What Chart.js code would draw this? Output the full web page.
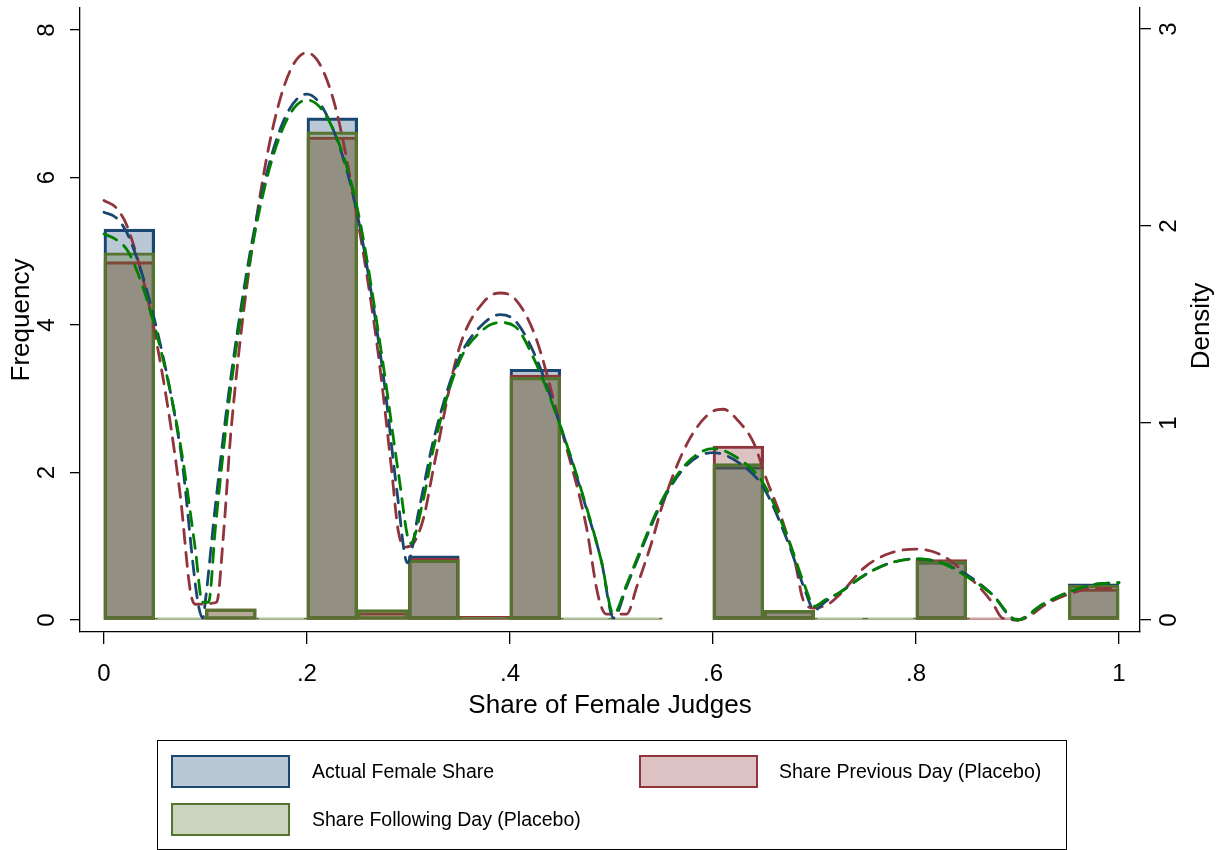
<!DOCTYPE html>
<html><head><meta charset="utf-8">
<script src="https://cdn.jsdelivr.net/npm/chart.js@4.4.1/dist/chart.umd.min.js"></script>
<style>
html,body{margin:0;padding:0;background:#fff;width:1225px;height:850px;overflow:hidden;font-family:"Liberation Sans",Arial,Helvetica,sans-serif;}
#wrap{position:relative;width:1225px;height:850px;}
canvas{position:absolute;left:0;top:0;}
.legbox{position:absolute;left:157px;top:740px;width:910px;height:110px;border:1.5px solid #000;box-sizing:border-box;}
.sw{position:absolute;width:119px;height:33px;box-sizing:border-box;border:2.5px solid;}
.lt{position:absolute;height:33px;line-height:33px;font-size:19.5px;color:#000;white-space:nowrap;}
</style></head><body>
<div id="wrap">
<canvas id="c" width="1225" height="850"></canvas>
<div class="legbox"></div>
<div id="legend"></div>
</div>
<script>
// ---- data ----
const binCenters = [0.025,0.075,0.125,0.175,0.225,0.275,0.325,0.375,0.425,0.475,0.525,0.575,0.625,0.675,0.725,0.775,0.825,0.875,0.925,0.975];
const actualFreq    = [5.30,0,   0,   0,   6.81,0,   0.87,0,   3.40,0,   0,   0,2.08,0.13,0,   0,   0.79,0,   0,0.49];
const previousFreq  = [4.86,0,   0.15,0,   6.55,0.10,0.84,0.05,3.32,0,   0,   0,2.36,0.13,0,   0,   0.82,0.03,0,0.42];
const followingFreq = [4.98,0.03,0.15,0.03,6.62,0.14,0.81,0.04,3.29,0.03,0.03,0,2.12,0.13,0.03,0.03,0.80,0,   0,0.47];

const actualDensX = [0,0.0125,0.025,0.05,0.075,0.0975,0.1,0.11,0.125,0.15,0.175,0.2,0.225,0.25,0.275,0.289,0.299,0.31,0.325,0.35,0.375,0.39,0.405,0.425,0.45,0.475,0.49,0.502,0.515,0.525,0.55,0.575,0.6,0.625,0.65,0.675,0.69,0.70,0.71,0.725,0.75,0.775,0.8,0.825,0.85,0.875,0.899,0.925,0.95,0.975,1.0];
const actualDensY = [2.07,2.04,1.94,1.52,0.88,0.01,0.10,0.59,1.23,2.03,2.51,2.67,2.50,2.05,1.25,0.64,0.29,0.55,0.92,1.33,1.51,1.55,1.52,1.34,0.98,0.57,0.30,0.01,0.17,0.30,0.60,0.79,0.85,0.80,0.67,0.38,0.16,0.05,0.09,0.14,0.23,0.29,0.31,0.29,0.23,0.13,0.0,0.08,0.14,0.18,0.19];

const previousDensX = [0,0.0125,0.025,0.05,0.075,0.085,0.09,0.111,0.118,0.125,0.15,0.175,0.2,0.225,0.25,0.27,0.283,0.29,0.297,0.305,0.315,0.325,0.35,0.375,0.39,0.405,0.425,0.45,0.475,0.487,0.495,0.515,0.525,0.54,0.55,0.575,0.6,0.61,0.625,0.64,0.653,0.668,0.681,0.689,0.70,0.715,0.725,0.75,0.775,0.8,0.825,0.85,0.875,0.885,0.9,0.912,0.925,0.95,0.975,1.0];
const previousDensY = [2.13,2.09,1.97,1.46,0.64,0.15,0.08,0.09,0.45,0.95,2.03,2.67,2.88,2.66,2.03,1.36,0.78,0.45,0.37,0.39,0.52,0.78,1.38,1.62,1.66,1.63,1.44,0.98,0.48,0.12,0.03,0.03,0.17,0.40,0.58,0.90,1.06,1.07,1.01,0.90,0.71,0.51,0.29,0.10,0.06,0.085,0.13,0.27,0.34,0.36,0.33,0.23,0.09,0.01,0.0,0.02,0.07,0.13,0.16,0.16];

const followingDensX = [0,0.0125,0.025,0.05,0.075,0.09,0.097,0.103,0.11,0.125,0.15,0.175,0.2,0.225,0.25,0.275,0.29,0.302,0.315,0.325,0.35,0.375,0.39,0.405,0.425,0.45,0.475,0.49,0.502,0.515,0.525,0.55,0.575,0.6,0.625,0.65,0.675,0.69,0.70,0.71,0.725,0.75,0.775,0.8,0.825,0.85,0.875,0.9,0.925,0.95,0.975,1.0];
const followingDensY = [1.96,1.93,1.86,1.49,0.90,0.36,0.09,0.09,0.48,1.18,2.00,2.48,2.64,2.50,2.08,1.30,0.75,0.39,0.62,0.88,1.31,1.48,1.51,1.49,1.31,0.98,0.58,0.30,0.03,0.18,0.31,0.61,0.80,0.87,0.82,0.69,0.40,0.18,0.07,0.10,0.14,0.23,0.29,0.31,0.29,0.22,0.13,0.0,0.08,0.14,0.18,0.19];

const seriesNames = ['Actual Female Share','Share Previous Day (Placebo)','Share Following Day (Placebo)'];
const xTickVals = [0,0.2,0.4,0.6,0.8,1];
const xTickLabels = ['0','.2','.4','.6','.8','1'];
const yTickVals = [0,2,4,6,8];
const yTickLabels = ['0','2','4','6','8'];
const y1TickVals = [0,1,2,3];
const y1TickLabels = ['0','1','2','3'];
const xTitle = 'Share of Female Judges';
const yTitle = 'Frequency';
const y1Title = 'Density';

// ---- styles ----
const FONT = '"Liberation Sans", Arial, Helvetica, sans-serif';
const RGB = {blue:'26,71,111', red:'144,53,59', green:'85,117,47'};
const LINE = {blue:'#1a476f', red:'#90353b', green:'#008000'};

Chart.defaults.font.family = FONT;
Chart.defaults.color = '#000';

function mkBar(label, vals, rgb, order){
  return {type:'bar', label, data: binCenters.map((x,i)=>({x, y: vals[i]})),
    backgroundColor:`rgba(${rgb},0.3)`, borderColor:`rgb(${rgb})`, borderWidth:2.5,
    borderSkipped:false, barPercentage:1, categoryPercentage:1, grouped:false,
    xAxisID:'x', yAxisID:'y', order};
}
function mkLine(label, xs, ys, color, order){
  return {type:'line', label, data: xs.map((x,i)=>({x, y: ys[i]})),
    borderColor:color, borderWidth:2.8, borderDash:[14,9], borderCapStyle:'round',
    pointRadius:0, fill:false, cubicInterpolationMode:'monotone',
    xAxisID:'x', yAxisID:'y1', order};
}

const rightTitlePlugin = {
  id:'rightTitle',
  afterDraw(chart){
    const {ctx, chartArea} = chart;
    const s = chart.scales.y1;
    ctx.save();
    ctx.font = `26px ${FONT}`;
    ctx.fillStyle = '#000';
    ctx.textAlign = 'center';
    ctx.textBaseline = 'middle';
    ctx.translate(s.right - 23, (chartArea.top + chartArea.bottom)/2 + 6);
    ctx.rotate(-Math.PI/2);
    ctx.fillText(y1Title, 0, 0);
    ctx.restore();
  }
};

function noPad(s){ s.paddingTop = 0; s.paddingBottom = 0; s.paddingLeft = 0; s.paddingRight = 0; }

const axisCommon = {color:'#000', lineWidth:1.3, drawOnChartArea:false, drawTicks:true, offset:false};

new Chart(document.getElementById('c'), {
  type:'bar',
  data:{datasets:[
    mkBar(seriesNames[0], actualFreq, RGB.blue, 6),
    mkBar(seriesNames[1], previousFreq, RGB.red, 5),
    mkBar(seriesNames[2], followingFreq, RGB.green, 4),
    mkLine(seriesNames[1]+' density', previousDensX, previousDensY, LINE.red, 3),
    mkLine(seriesNames[0]+' density', actualDensX, actualDensY, LINE.blue, 2),
    mkLine(seriesNames[2]+' density', followingDensX, followingDensY, LINE.green, 1)
  ]},
  options:{
    responsive:false, animation:false, devicePixelRatio:1,
    layout:{padding:{top:8,left:0,right:0,bottom:0}},
    plugins:{legend:{display:false}, tooltip:{enabled:false}},
    scales:{
      x:{type:'linear', position:'bottom', min:-0.0236, max:1.0207, offset:false,
        afterBuildTicks:s=>{ s.ticks = xTickVals.map(v=>({value:v})); },
        afterFit:s=>{ s.height = 218; noPad(s); },
        grid:Object.assign({tickLength:12}, axisCommon),
        border:{display:true, color:'#000', width:1.3},
        ticks:{font:{size:24}, color:'#000', padding:15.6, minRotation:0, maxRotation:0, autoSkip:false,
          callback:(v,i)=>xTickLabels[i]},
        title:{display:true, text:xTitle, font:{size:26}, color:'#000', padding:{top:0,bottom:128.4}}
      },
      y:{type:'linear', position:'left', min:-0.163, max:8.30,
        afterBuildTicks:s=>{ s.ticks = yTickVals.map(v=>({value:v})); },
        afterFit:s=>{ s.width = 80; noPad(s); },
        grid:Object.assign({tickLength:10}, axisCommon),
        border:{display:true, color:'#000', width:1.3},
        ticks:{font:{size:24}, color:'#000', padding:16.3, minRotation:90, maxRotation:90, crossAlign:'center',
          callback:(v,i)=>yTickLabels[i]},
        title:{display:true, text:yTitle, font:{size:26}, color:'#000', padding:{top:6.4,bottom:0}}
      },
      y1:{type:'linear', position:'right', min:-0.061, max:3.107,
        afterBuildTicks:s=>{ s.ticks = y1TickVals.map(v=>({value:v})); },
        afterFit:s=>{ s.width = 85; noPad(s); },
        grid:Object.assign({tickLength:11}, axisCommon),
        border:{display:true, color:'#000', width:1.3},
        ticks:{font:{size:24}, color:'#000', padding:11.3, minRotation:90, maxRotation:90, crossAlign:'center',
          callback:(v,i)=>y1TickLabels[i]},
        title:{display:false, text:y1Title}
      }
    }
  },
  plugins:[rightTitlePlugin]
});

// ---- HTML legend ----
const legendSpots = [[171,755,312],[639,755,779],[171,803,312]];
const legendRGB = [RGB.blue, RGB.red, RGB.green];
const leg = document.getElementById('legend');
seriesNames.forEach((name,i)=>{
  const [sx, sy, tx] = legendSpots[i];
  const sw = document.createElement('div');
  sw.className = 'sw';
  sw.style.left = sx+'px'; sw.style.top = sy+'px';
  sw.style.borderColor = `rgb(${legendRGB[i]})`;
  sw.style.background = `rgba(${legendRGB[i]},0.3)`;
  leg.appendChild(sw);
  const t = document.createElement('div');
  t.className = 'lt';
  t.style.left = tx+'px'; t.style.top = sy+'px';
  t.textContent = name;
  leg.appendChild(t);
});
</script>
</body></html>
